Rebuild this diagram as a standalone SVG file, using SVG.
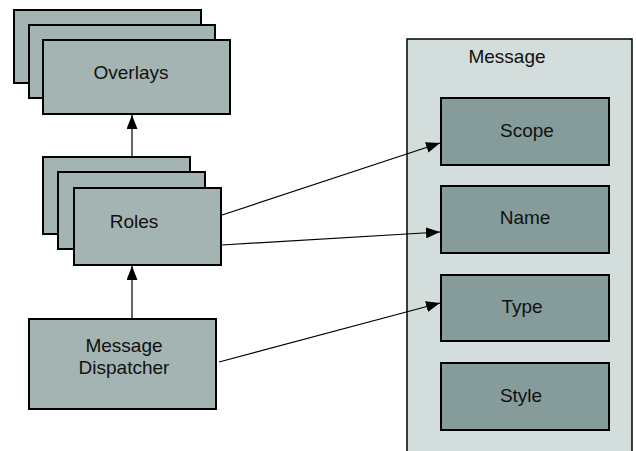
<svg xmlns="http://www.w3.org/2000/svg" width="636" height="451" viewBox="0 0 636 451">
  <style>
    .stack { fill: #a3b4b2; stroke: #000; stroke-width: 2; }
    .field { fill: #859c9b; stroke: #000; stroke-width: 2; }
    .container { fill: #d2dddc; stroke: #000; stroke-width: 1.5; }
    .label { font-family: "Liberation Sans", Arial, sans-serif; font-size: 19px; fill: #111; text-anchor: middle; }
    .link { stroke: #000; stroke-width: 1.2; fill: none; marker-end: url(#arrow); }
  </style>
  <defs>
    <marker id="arrow" viewBox="0 0 14 11" refX="14" refY="5.5" markerWidth="14" markerHeight="11" markerUnits="userSpaceOnUse" orient="auto">
      <path d="M0,0 L14,5.5 L0,11 Z" fill="#000"/>
    </marker>
  </defs>
  <rect width="636" height="451" fill="#fff"/>

  <!-- Message container with its fields -->
  <g id="message">
    <rect class="container" x="407" y="39" width="225" height="413"/>
    <text class="label" x="507" y="63">Message</text>
  </g>
  <g id="scope">
    <rect class="field" x="441" y="98" width="168" height="67"/>
    <text class="label" x="527" y="137">Scope</text>
  </g>
  <g id="name">
    <rect class="field" x="441" y="186" width="168" height="67"/>
    <text class="label" x="525" y="224">Name</text>
  </g>
  <g id="type">
    <rect class="field" x="441" y="275" width="168" height="66"/>
    <text class="label" x="522" y="313">Type</text>
  </g>
  <g id="style">
    <rect class="field" x="441" y="363" width="168" height="67"/>
    <text class="label" x="521" y="402">Style</text>
  </g>

  <!-- Stacked Overlays -->
  <g id="overlays">
    <rect class="stack" x="14" y="10" width="187" height="73"/>
    <rect class="stack" x="29" y="25" width="186" height="73"/>
    <rect class="stack" x="43" y="40" width="187" height="74"/>
    <text class="label" x="131" y="79">Overlays</text>
  </g>

  <!-- Stacked Roles -->
  <g id="roles">
    <rect class="stack" x="43" y="157" width="147" height="77"/>
    <rect class="stack" x="58" y="172" width="147" height="77"/>
    <rect class="stack" x="74" y="188" width="147" height="77"/>
    <text class="label" x="134" y="228">Roles</text>
  </g>

  <g id="dispatcher">
    <rect class="stack" x="29" y="319" width="187" height="90"/>
    <text class="label" x="124" y="352">Message</text>
    <text class="label" x="124" y="374">Dispatcher</text>
  </g>

  <!-- Connectors -->
  <g id="connectors">
    <line class="link" x1="132" y1="157" x2="132" y2="115"/>
    <line class="link" x1="132" y1="319" x2="132" y2="266"/>
    <line class="link" x1="222" y1="215" x2="440" y2="143"/>
    <line class="link" x1="222" y1="245" x2="440" y2="232"/>
    <line class="link" x1="219" y1="362" x2="440" y2="303"/>
  </g>
</svg>
